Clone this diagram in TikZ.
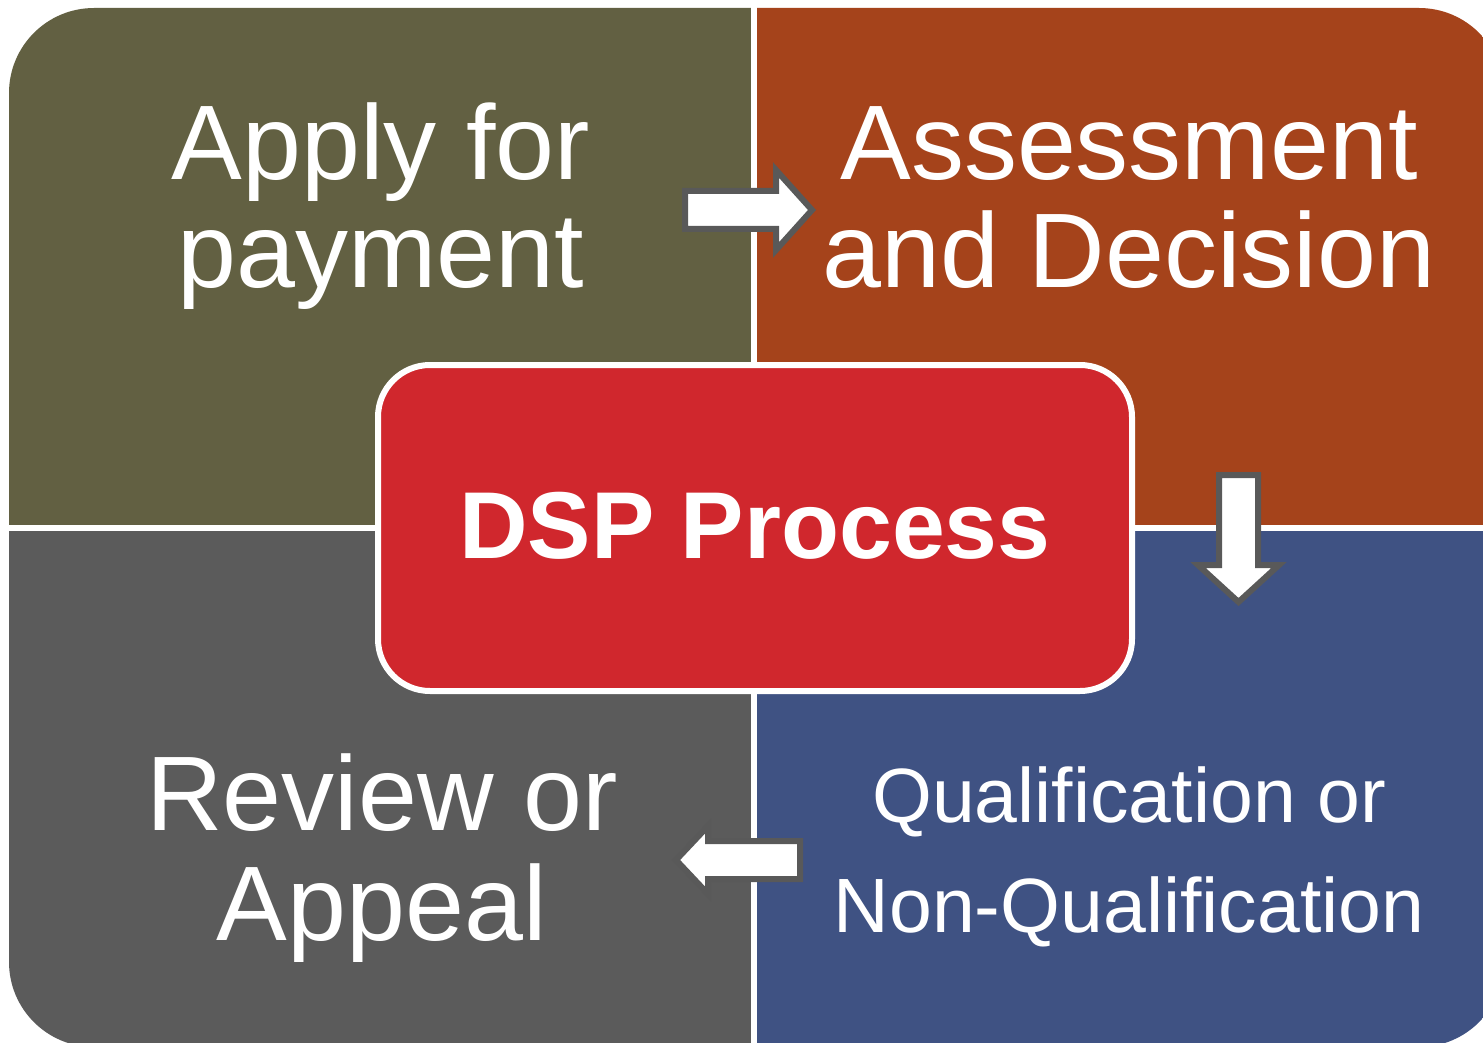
\documentclass[tikz,border=0pt]{standalone}
\usepackage{fontspec}
\setmainfont{Liberation Sans}
\definecolor{olivec}{RGB}{98,96,66}
\definecolor{rustc}{RGB}{165,67,27}
\definecolor{grayc}{RGB}{91,91,91}
\definecolor{bluec}{RGB}{63,82,131}
\definecolor{redc}{RGB}{208,39,45}
\definecolor{arrowgray}{RGB}{89,89,89}
\tikzset{
  bigtxt/.style={text=white, anchor=base, inner sep=0pt, font=\fontsize{106}{110}\selectfont},
  smalltxt/.style={text=white, anchor=base, inner sep=0pt, font=\fontsize{77}{80}\selectfont},
  blockarrow/.style={fill=white, draw=arrowgray, line width=6pt, line join=miter},
  centerbox/.style={draw=white, line width=6pt, fill=redc, rounded corners=52pt, minimum width=754pt, minimum height=326pt, inner sep=0pt}
}
\begin{document}
\begin{tikzpicture}[x=1pt,y=-1pt]
\useasboundingbox (0,0) rectangle (1483,1043);
\fill[white] (0,0) rectangle (1483,1043);
\begin{scope}
  \clip (0,0) rectangle (1483,1043);
  \clip[rounded corners=85pt] (9,8) rectangle (1504,1047);
  \fill[olivec] (0,0) rectangle (751,525);
  \fill[rustc] (757,0) rectangle (1510,525);
  \fill[grayc] (0,531) rectangle (751,1050);
  \fill[bluec] (757,531) rectangle (1510,1050);
\end{scope}
% texts
\node[bigtxt] (apply1) at (381,180) {Apply for};
\node[bigtxt] (apply2) at (381,287) {payment};
\node[bigtxt] (assess1) at (1129,180) {Assessment};
\node[bigtxt] (assess2) at (1129,287) {and Decision};
\node[bigtxt] (review1) at (382,830) {Review or};
\node[bigtxt] (review2) at (382,940) {Appeal};
\node[smalltxt] (qual1) at (1129,822) {Qualification or};
\node[smalltxt] (qual2) at (1129,932) {Non-Qualification};
% block arrows
\draw[blockarrow] (685,191) -- (776,191) -- (776,170) -- (812,210) -- (776,250) -- (776,229) -- (685,229) -- cycle;
\draw[blockarrow] (1219,475) -- (1258,475) -- (1258,565) -- (1279,565) -- (1238.5,602) -- (1198,565) -- (1219,565) -- cycle;
\draw[blockarrow] (800,841) -- (708,841) -- (708,826) -- (676,860) -- (708,894) -- (708,879) -- (800,879) -- cycle;
% center box
\node[centerbox] (dsp) at (755,528) {};
\node[text=white, anchor=base, inner sep=0pt, font=\fontsize{95}{100}\selectfont\bfseries] (dsptext) at (755,558) {DSP Process};
\end{tikzpicture}
\end{document}
